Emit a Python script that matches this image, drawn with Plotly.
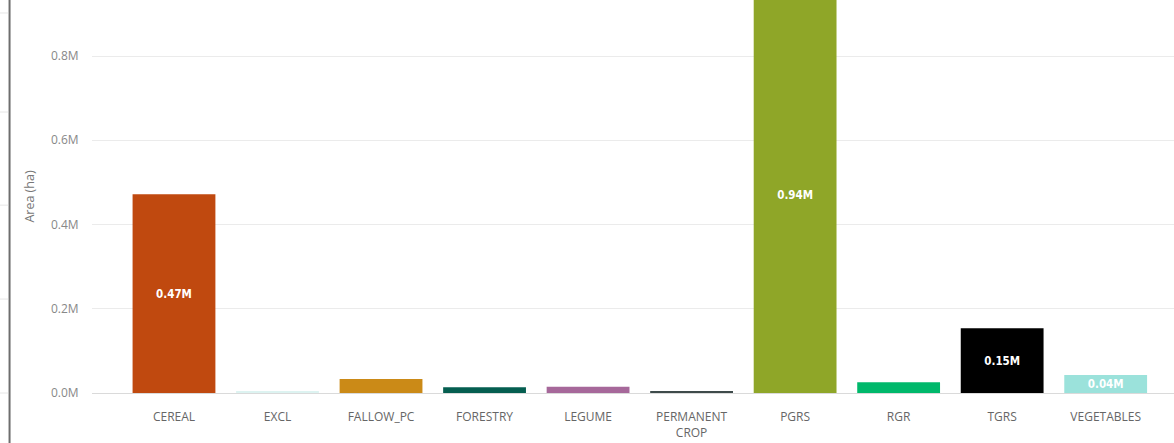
import plotly.graph_objects as go

# land use categories and their area in hectares
categories = ['CEREAL', 'EXCL', 'FALLOW_PC', 'FORESTRY', 'LEGUME',
              'PERMANENT CROP', 'PGRS', 'RGR', 'TGRS', 'VEGETABLES']
area_ha = [472000, 4000, 33000, 13500, 15000, 5000, 940000, 25500, 153500, 42700]
bar_colors = ['#C0490F', '#DDF3F1', '#CB8A17', '#055E50', '#A6689A',
              '#3E4B4B', '#8FA628', '#00B86B', '#000000', '#9BE2DB']
labelled = ['CEREAL', 'PGRS', 'TGRS', 'VEGETABLES']

y_ticks = [0, 200000, 400000, 600000, 800000]
y_ticktext = ['0.0M', '0.2M', '0.4M', '0.6M', '0.8M']

##### build figure #####

labels = ['{:.2f}M'.format(v / 1e6) if c in labelled else ''
          for c, v in zip(categories, area_ha)]

fig = go.Figure(
    data=[
        go.Bar(
            x=list(range(len(categories))),
            y=area_ha,
            marker={'color': bar_colors, 'line': {'width': 0}},
            text=labels,
            textposition='inside',
            insidetextanchor='middle',
            constraintext='none',
            textfont={'family': 'DejaVu Sans Condensed, Roboto', 'size': 11.5,
                      'color': 'white', 'weight': 'bold'},
            cliponaxis=True,
            hoverinfo='x+y',
        )
    ],
    layout={
        'width': 1174,
        'height': 443,
        'margin': {'l': 92, 'r': 0, 't': 0, 'b': 50, 'pad': 0},
        'paper_bgcolor': 'white',
        'plot_bgcolor': 'white',
        'bargap': 0.2,
        'showlegend': False,
        'font': {'family': 'Open Sans, Noto Sans', 'color': '#777'},
        'xaxis': {
            'range': [-0.792, 9.66],
            'tickmode': 'array',
            'tickvals': list(range(len(categories))),
            'ticktext': [c.replace(' ', '<br>') for c in categories],
            'tickfont': {'size': 12, 'color': '#666'},
            'ticks': 'outside', 'ticklen': 0,
            'ticklabelstandoff': 13,
            'showgrid': False,
            'showline': False,
            'zeroline': False,
        },
        'yaxis': {
            'range': [0, 933000],
            'tickmode': 'array',
            'tickvals': y_ticks,
            'ticktext': y_ticktext,
            'tickfont': {'size': 12, 'color': '#888'},
            'ticks': 'outside', 'ticklen': 0,
            'ticklabelstandoff': 10,
            'gridcolor': '#EBEBEB',
            'gridwidth': 1,
            'zeroline': True,
            'zerolinecolor': '#DADADA',
            'zerolinewidth': 1,
            'title': {'text': 'Area (ha)', 'font': {'size': 12.5, 'color': '#777'},
                      'standoff': 13},
        },
        'shapes': [
            # border of the neighbouring visual on the left
            {'type': 'line', 'xref': 'paper', 'yref': 'paper',
             'x0': -0.0762, 'x1': -0.0762, 'y0': 1.0, 'y1': -0.13,
             'line': {'color': '#6E6E6E', 'width': 2}},
        ] + [
            {'type': 'line', 'xref': 'paper', 'yref': 'paper',
             'x0': -0.0851, 'x1': -0.0775, 'y0': yy, 'y1': yy,
             'line': {'color': '#E6E6E6', 'width': 1}}
            for yy in [0.967, 0.715, 0.478, 0.239, 0.0]
        ],
    },
)

# drop the default page margin so the figure sits at the window's corner
fig.write_html('out.html', config={'displayModeBar': False},
               post_script="document.body.style.margin='0';")
